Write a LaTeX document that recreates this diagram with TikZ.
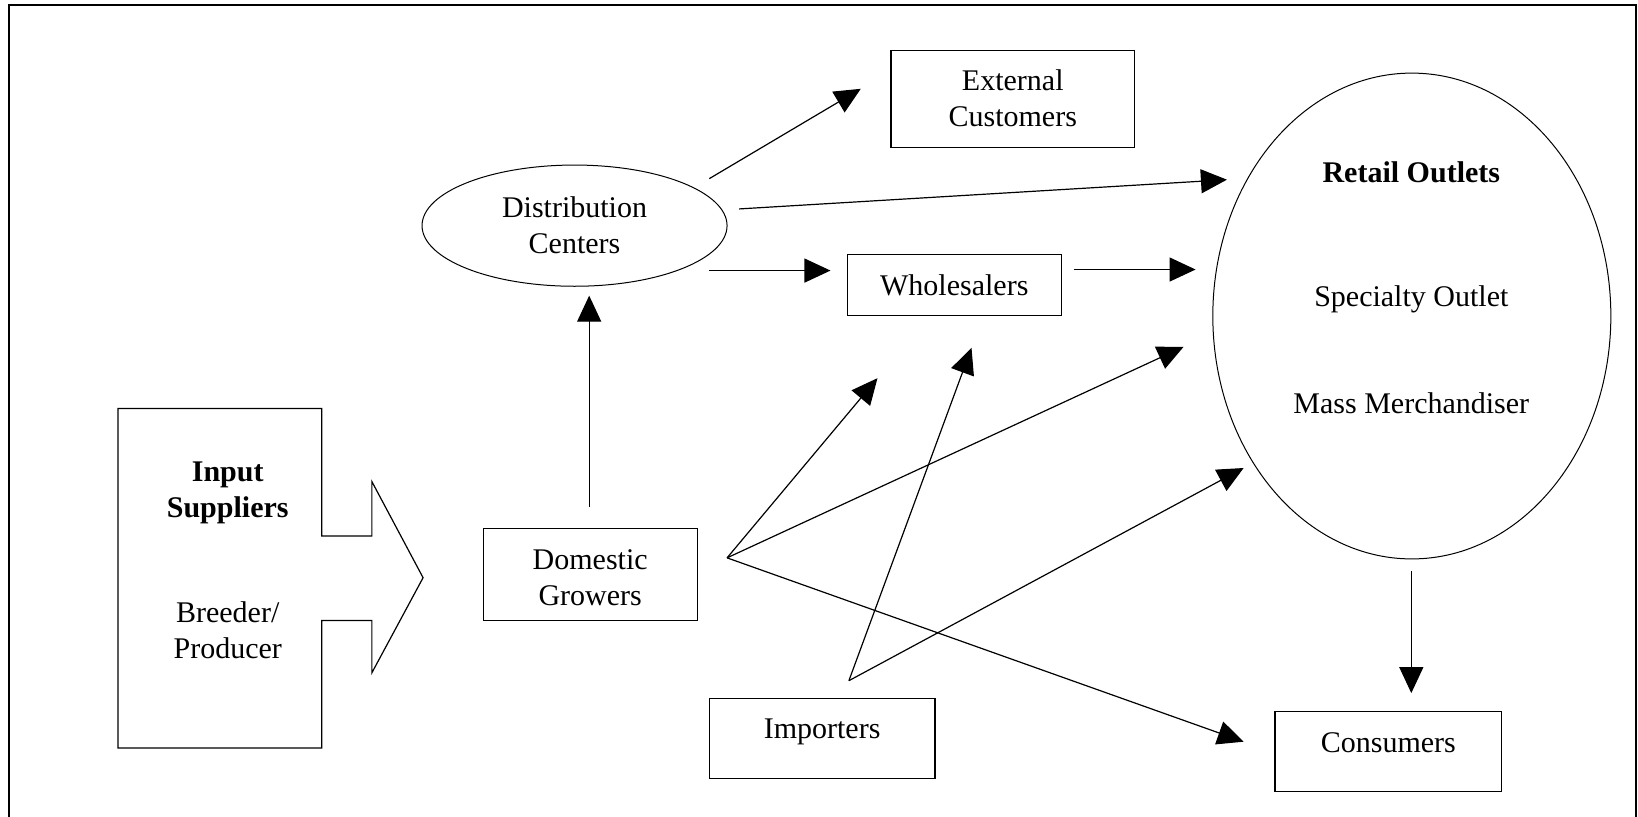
\documentclass[tikz,border=0pt]{standalone}
\usepackage{fontspec}
\setmainfont{Liberation Serif}
\usetikzlibrary{arrows.meta,shapes.geometric}
\begin{document}
\begin{tikzpicture}[x=0.5223pt,y=-0.5223pt,
  every node/.style={font=\fontsize{15}{18}\selectfont, align=center},
  box/.style={draw, line width=0.6pt, inner sep=0pt},
  oval/.style={draw, ellipse, line width=0.5pt, inner sep=0pt},
  flow/.style={line width=0.6pt, -{Triangle[length=13pt,width=12pt]}},
  frameline/.style={line width=1pt}]
\useasboundingbox (0,0) rectangle (1568,782);
% frame
\draw[frameline] (9,782) -- (9,5) -- (1566,5) -- (1566,782);
% input suppliers shape
\draw[line width=0.6pt] (113,391) -- (308,391) -- (308,513) -- (356,513) -- (356,461)
  -- (405,553) -- (356,644) -- (356,594) -- (308,594) -- (308,716) -- (113,716) -- cycle;
\node (inputtitle) at (218,472) {\bfseries Input\\\bfseries Suppliers};
\node (inputsub) at (218,603) {Breeder/\\Producer};
% nodes
\node[box, minimum width=107.1pt, minimum height=46pt] (dg) at (565,550) {};
\node (dgtext) at (565,553) {Domestic\\Growers};
\node[oval, minimum width=152.5pt, minimum height=60.6pt] (dc) at (550,216) {Distribution\\Centers};
\node[box, minimum width=121.7pt, minimum height=48.6pt] (ext) at (969.5,94.5) {External\\Customers};
\node[box, minimum width=107.1pt, minimum height=30.3pt] (ws) at (913.5,273) {Wholesalers};
\node[oval, minimum width=199pt, minimum height=242.9pt] (ro) at (1351.5,302.5) {};
\node (rotitle) at (1351,165) {\bfseries Retail Outlets};
\node (rospec) at (1351,287) {Specialty Outlet};
\node (romass) at (1351,386) {Mass Merchandiser};
\node[box, minimum width=112.8pt, minimum height=40pt] (imp) at (787,707) {};
\node (imptext) at (787,701) {Importers};
\node[box, minimum width=113.3pt, minimum height=40pt] (con) at (1329,719) {};
\node (context) at (1329,711) {Consumers};
% connector end points
\coordinate (dgup) at (564,485);
\coordinate (dcin) at (564,283);
\coordinate (dcext) at (679,171);
\coordinate (extin) at (824,85);
\coordinate (dcro) at (707.5,200);
\coordinate (roin1) at (1174.5,172);
\coordinate (dcws) at (679,259);
\coordinate (wsin) at (795,259);
\coordinate (wsout) at (1028,258);
\coordinate (roin2) at (1144.5,258);
\coordinate (dgout) at (696,534);
\coordinate (wsin2) at (840,362);
\coordinate (roin3) at (1133,332);
\coordinate (conin1) at (1190.5,710);
\coordinate (impout) at (812.6,651.6);
\coordinate (wsin3) at (930,333);
\coordinate (roin4) at (1190.5,448);
\coordinate (roout) at (1351,547);
\coordinate (conin2) at (1351,663.5);
% connectors
\draw[flow] (dgup) -- (dcin);
\draw[flow] (dcext) -- (extin);
\draw[flow] (dcro) -- (roin1);
\draw[flow] (dcws) -- (wsin);
\draw[flow] (wsout) -- (roin2);
\draw[flow] (dgout) -- (wsin2);
\draw[flow] (dgout) -- (roin3);
\draw[flow] (dgout) -- (conin1);
\draw[flow] (impout) -- (wsin3);
\draw[flow] (impout) -- (roin4);
\draw[flow] (roout) -- (conin2);
\end{tikzpicture}
\end{document}
